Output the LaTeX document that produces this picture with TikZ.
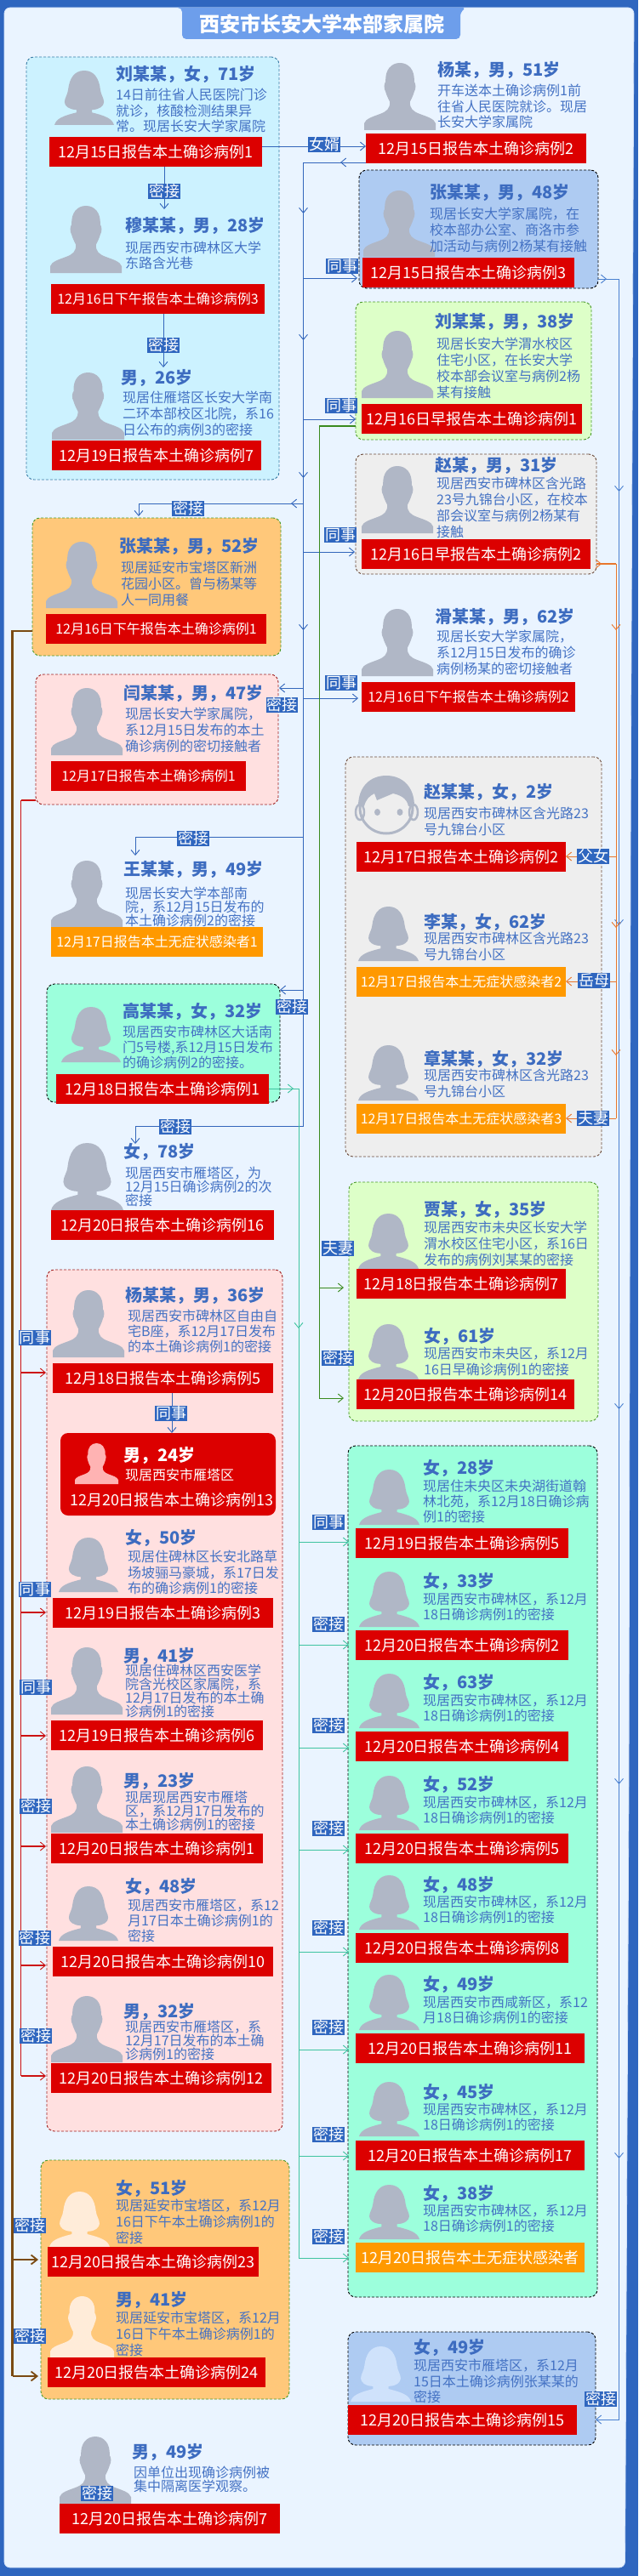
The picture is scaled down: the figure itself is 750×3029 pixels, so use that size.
\documentclass[tikz,border=0pt]{standalone}
\usepackage{fontspec}
\setmainfont{Noto Sans CJK SC}
\usetikzlibrary{arrows.meta}
\definecolor{pagebg}{HTML}{2F66BF}
\definecolor{panel}{HTML}{EAF4FF}
\definecolor{titlebar}{HTML}{6D9EEB}
\definecolor{tagblue}{HTML}{2F66BF}
\definecolor{txtblue}{HTML}{4472C4}
\definecolor{namblue}{HTML}{3D6CC0}
\definecolor{bred}{HTML}{DC0000}
\definecolor{borange}{HTML}{FF9900}
\definecolor{silgray}{HTML}{B0B7C6}
\definecolor{cyanfill}{HTML}{CCF2FF}
\definecolor{bluefill}{HTML}{AECBF2}
\definecolor{greenfill}{HTML}{DDFFC8}
\definecolor{grayfill}{HTML}{EEEEEE}
\definecolor{orangefill}{HTML}{FFC87A}
\definecolor{pinkfill}{HTML}{FFE0E0}
\definecolor{aquafill}{HTML}{9CFFDC}
\definecolor{cyanline}{HTML}{3A7CA5}
\definecolor{greenline}{HTML}{4A9A2A}
\definecolor{brownline}{HTML}{6B4A3A}
\definecolor{redline}{HTML}{A02020}
\definecolor{cblue}{HTML}{3366BB}
\definecolor{clblue}{HTML}{4A80D0}
\definecolor{corange}{HTML}{E8762C}
\definecolor{cgreen}{HTML}{3A8A1E}
\definecolor{caqua}{HTML}{3FC4A0}
\definecolor{cred}{HTML}{CC1111}
\definecolor{cbrown}{HTML}{7A4A12}
\definecolor{lightskin}{HTML}{FFECD9}
\definecolor{lightblue}{HTML}{CFE2FB}
\definecolor{lightpink}{HTML}{FFB3B3}
\tikzset{
  grpbox/.style={rounded corners=9pt,dashed,dash pattern=on 3pt off 2pt,line width=0.9pt,inner sep=0pt,outer sep=0pt},
  bnrbox/.style={inner sep=0pt,outer sep=0pt,text=white},
  reltag/.style={fill=tagblue,text=white,inner sep=0pt,outer sep=0pt,minimum width=37.5pt,minimum height=18pt,font=\fontsize{18}{18}\selectfont},
  nametxt/.style={anchor=west,inner sep=0pt,text=namblue,font=\fontsize{20}{20}\selectfont\bfseries},
  bodytxt/.style={anchor=north west,inner sep=0pt,text=txtblue,align=left},
  barb/.style={-{Straight Barb[length=6pt,width=10pt,line width=0.9pt]}},
  lnblue/.style={draw=cblue,line width=0.9pt},
  lnlight/.style={draw=clblue,line width=0.9pt},
  lnorange/.style={draw=corange,line width=1pt},
  lngreen/.style={draw=cgreen,line width=1pt},
  lnaqua/.style={draw=caqua,line width=1pt},
  lnred/.style={draw=cred,line width=1.2pt},
  lnbrown/.style={draw=cbrown,line width=2.6pt},
}
\def\manpath{(0,1) -- (0,.9) .. controls (.02,.83) and (.12,.8) .. (.22,.76) .. controls (.32,.72) and (.36,.68) .. (.36,.58) .. controls (.33,.52) and (.31,.47) .. (.3,.43) .. controls (.27,.38) and (.28,.3) .. (.3,.28) .. controls (.29,.1) and (.38,0) .. (.5,0) .. controls (.62,0) and (.71,.1) .. (.7,.28) .. controls (.72,.3) and (.73,.38) .. (.7,.43) .. controls (.69,.47) and (.67,.52) .. (.64,.58) .. controls (.64,.68) and (.68,.72) .. (.78,.76) .. controls (.88,.8) and (.98,.83) .. (1,.9) -- (1,1) -- cycle}
\def\womanpath{(0,1) .. controls (.03,.88) and (.15,.83) .. (.37,.77) -- (.37,.72) .. controls (.25,.72) and (.17,.65) .. (.17,.58) .. controls (.17,.5) and (.22,.45) .. (.23,.35) .. controls (.25,.15) and (.33,0) .. (.5,0) .. controls (.67,0) and (.75,.15) .. (.77,.35) .. controls (.78,.45) and (.83,.5) .. (.83,.58) .. controls (.83,.65) and (.75,.72) .. (.63,.72) -- (.63,.77) .. controls (.85,.83) and (.97,.88) .. (1,1) -- cycle}
% silhouettes: x0 y0 x1 y1 colour
\newcommand\mansil[5]{\pgfmathsetmacro\sw{#3-#1}\pgfmathsetmacro\sh{#4-#2}%
  \begin{scope}[shift={(#1,#2)},x=\sw pt,y=-\sh pt]\fill[#5] \manpath;\end{scope}}
\newcommand\womansil[5]{\pgfmathsetmacro\sw{#3-#1}\pgfmathsetmacro\sh{#4-#2}%
  \begin{scope}[shift={(#1,#2)},x=\sw pt,y=-\sh pt]\fill[#5] \womanpath;\end{scope}}
% group: name x0 y0 x1 y1 fill border
\newcommand\grpbox[7]{\node[grpbox,fill=#6,draw=#7,minimum width={(#4-#2)*1pt},minimum height={(#5-#3)*1pt}] (#1) at ({(#2+#4)/2},{(#3+#5)/2}) {};}
% banner: name x0 y0 x1 y1 fill size text
\newcommand\bnr[8]{\node[bnrbox,fill=#6,minimum width={(#4-#2)*1pt},minimum height={(#5-#3)*1pt},font=\fontsize{#7}{#7}\selectfont] (#1) at ({(#2+#4)/2},{(#3+#5)/2}) {#8};}
% text: id x yname xbody ybodycentre lead name body
\newcommand\ptxt[8]{\node[nametxt] (n#1) at (#2,#3) {#7};
  \node[bodytxt,font=\fontsize{16}{#6}\selectfont] (d#1) at (#4,{#5-8}) {#8};}
\newcommand\rel[4]{\node[reltag] (#1) at (#2,#3) {#4};}
\newcommand\hbr[5]{\coordinate (#3) at (#4,#5); \draw[#1,barb] (#2 |- #3) -- (#3);}
\newcommand\midtip[5]{\draw[#1,barb] ({#2-5*#4},{#3-5*#5}) -- (#2,#3);}
\begin{document}
\begin{tikzpicture}[x=1pt,y=-1pt]
\useasboundingbox (0,0) rectangle (750,3029);
\fill[pagebg] (0,0) rectangle (750,3029);
\path[fill=panel,draw=white!70!titlebar,line width=0.8pt,rounded corners=7pt] (5,9) -- (745,9) -- (741,1000) -- (739,2100) -- (734.5,3019) -- (5,3019) -- cycle;
% title
\path[fill=titlebar,rounded corners=5pt] (214,46) -- (214,9) -- (208,9) -- (548,9) -- (541,14) -- (541,46) -- cycle;
\node[inner sep=0pt,text=white,font=\fontsize{24}{24}\selectfont\bfseries] (title) at (378,28) {西安市长安大学本部家属院};
% groups
\grpbox{G1}{31}{67}{328}{564}{cyanfill}{cyanline}
\grpbox{G2}{422}{200}{703}{339}{bluefill}{black}
\grpbox{G3}{418}{355}{695}{517}{greenfill}{greenline}
\grpbox{G4}{418}{534}{701}{675}{grayfill}{brownline}
\grpbox{G5}{38}{609}{330}{771}{orangefill}{greenline}
\grpbox{G6}{42}{793}{327}{946}{pinkfill}{redline}
\grpbox{G7}{406}{890}{707}{1360}{grayfill}{brownline}
\grpbox{G8}{55}{1157}{329}{1296}{aquafill}{black}
\grpbox{G9}{410}{1390}{703}{1671}{greenfill}{greenline}
\grpbox{G10}{55}{1493}{332}{2506}{pinkfill}{redline}
\grpbox{G11}{409}{1700}{702}{2701}{aquafill}{black}
\grpbox{G12}{48}{2540}{340}{2821}{orangefill}{greenline}
\grpbox{G13}{409}{2742}{700}{2875}{bluefill}{black}
\node[fill=bred,rounded corners=9pt,inner sep=0pt,outer sep=0pt,minimum width=253pt,minimum height=97pt] (R13) at (197.5,1733.5) {};
% silhouettes
\womansil{64}{83}{134}{147}{silgray}
\mansil{428}{74}{512}{153}{silgray}
\mansil{59}{242}{143}{321}{silgray}
\mansil{61}{438}{146}{517}{silgray}
\mansil{427}{224}{511}{302}{silgray}
\mansil{425}{389}{509}{468}{silgray}
\mansil{425}{548}{509}{627}{silgray}
\mansil{54}{637}{138}{715}{silgray}
\mansil{425}{716}{509}{795}{silgray}
\mansil{60}{809}{144}{888}{silgray}
% child
\draw[silgray,line width=3pt] (454,950) ellipse [x radius=31pt,y radius=30pt];
\fill[silgray] (421,948) .. controls (421,925) and (435,912) .. (454,912) .. controls (473,912) and (487,925) .. (487,948) -- (480,948) .. controls (478,938) and (470,935) .. (462,933) -- (443,941) -- (440,933) .. controls (434,936) and (430,940) .. (428,948) -- cycle;
\draw[silgray,line width=2.5pt] (423,955) ellipse [x radius=5pt,y radius=9pt];
\draw[silgray,line width=2.5pt] (486,955) ellipse [x radius=5pt,y radius=9pt];
\fill[silgray] (443.5,955) ellipse [x radius=3.5pt,y radius=4pt];
\fill[silgray] (470,955) ellipse [x radius=3.5pt,y radius=4pt];
\mansil{60}{1012}{144}{1090}{silgray}
\womansil{421}{1066}{492}{1130}{silgray}
\womansil{72}{1184}{142}{1249}{silgray}
\womansil{421}{1229}{492}{1294}{silgray}
\womansil{60}{1344}{145}{1423}{silgray}
\womansil{421}{1427}{492}{1492}{silgray}
\mansil{62}{1517}{146}{1596}{silgray}
\womansil{421}{1557}{492}{1622}{silgray}
\mansil{88}{1697}{139}{1745}{lightpink}
\womansil{422}{1728}{493}{1793}{silgray}
\womansil{69}{1808}{139}{1872}{silgray}
\womansil{422}{1848}{493}{1913}{silgray}
\mansil{60}{1937}{144}{2016}{silgray}
\womansil{422}{1968}{493}{2032}{silgray}
\mansil{60}{2077}{144}{2155}{silgray}
\womansil{422}{2088}{493}{2152}{silgray}
\womansil{69}{2218}{139}{2282}{silgray}
\womansil{422}{2205}{493}{2269}{silgray}
\womansil{422}{2322}{493}{2387}{silgray}
\mansil{60}{2347}{144}{2425}{silgray}
\womansil{422}{2448}{493}{2512}{silgray}
\womansil{422}{2569}{493}{2633}{silgray}
\womansil{58}{2577}{129}{2642}{lightskin}
\mansil{59}{2700}{134}{2772}{lightskin}
\womansil{412}{2759}{483}{2824}{lightblue}
\mansil{70}{2865}{154}{2944}{silgray}
% banners
\bnr{B1}{58}{161}{308}{196}{bred}{18}{12月15日报告本土确诊病例1}
\bnr{B2}{430}{157}{689}{192}{bred}{18}{12月15日报告本土确诊病例2}
\bnr{B3}{426}{303}{675}{338}{bred}{18}{12月15日报告本土确诊病例3}
\bnr{B4}{60}{334}{311}{369}{bred}{16}{12月16日下午报告本土确诊病例3}
\bnr{B5}{61}{518}{307}{553}{bred}{18}{12月19日报告本土确诊病例7}
\bnr{B6}{425}{475}{684}{510}{bred}{18}{12月16日早报告本土确诊病例1}
\bnr{B7}{425}{634}{694}{669}{bred}{18}{12月16日早报告本土确诊病例2}
\bnr{B8}{54}{722}{313}{757}{bred}{16}{12月16日下午报告本土确诊病例1}
\bnr{B9}{425}{802}{676}{837}{bred}{16}{12月16日下午报告本土确诊病例2}
\bnr{B10}{60}{895}{289}{930}{bred}{16}{12月17日报告本土确诊病例1}
\bnr{B11}{419}{990}{665}{1025}{bred}{18}{12月17日报告本土确诊病例2}
\bnr{B12}{60}{1090}{309}{1125}{borange}{16}{12月17日报告本土无症状感染者1\hspace{4pt}}
\bnr{B13}{419}{1137}{665}{1172}{borange}{16}{12月17日报告本土无症状感染者2}
\bnr{B14}{66}{1263}{316}{1298}{bred}{18}{12月18日报告本土确诊病例1}
\bnr{B15}{419}{1298}{665}{1333}{borange}{16}{12月17日报告本土无症状感染者3}
\bnr{B16}{60}{1423}{322}{1458}{bred}{18}{12月20日报告本土确诊病例16}
\bnr{B17}{419}{1492}{665}{1527}{bred}{18}{12月18日报告本土确诊病例7}
\bnr{B18}{419}{1622}{675}{1657}{bred}{18}{12月20日报告本土确诊病例14}
\bnr{B19}{62}{1603}{321}{1638}{bred}{18}{12月18日报告本土确诊病例5}
\bnr{B20}{418}{1797}{668}{1832}{bred}{18}{12月19日报告本土确诊病例5}
\bnr{B21}{62}{1879}{321}{1914}{bred}{18}{12月19日报告本土确诊病例3}
\bnr{B22}{418}{1917}{668}{1952}{bred}{18}{12月20日报告本土确诊病例2}
\bnr{B23}{60}{2023}{309}{2058}{bred}{18}{12月19日报告本土确诊病例6}
\bnr{B24}{418}{2036}{668}{2071}{bred}{18}{12月20日报告本土确诊病例4}
\bnr{B25}{60}{2156}{309}{2191}{bred}{18}{12月20日报告本土确诊病例1}
\bnr{B26}{418}{2156}{668}{2191}{bred}{18}{12月20日报告本土确诊病例5}
\bnr{B27}{62}{2289}{321}{2324}{bred}{18}{12月20日报告本土确诊病例10}
\bnr{B28}{418}{2273}{668}{2308}{bred}{18}{12月20日报告本土确诊病例8}
\bnr{B29}{60}{2426}{319}{2461}{bred}{18}{12月20日报告本土确诊病例12}
\bnr{B30}{418}{2391}{687}{2426}{bred}{18}{12月20日报告本土确诊病例11\hspace{19pt}}
\bnr{B31}{418}{2517}{687}{2552}{bred}{18}{12月20日报告本土确诊病例17\hspace{19pt}}
\bnr{B32}{418}{2637}{687}{2672}{borange}{18}{12月20日报告本土无症状感染者\hspace{8pt}}
\bnr{B33}{56}{2642}{304}{2677}{bred}{18}{12月20日报告本土确诊病例23}
\bnr{B34}{56}{2772}{312}{2807}{bred}{18}{12月20日报告本土确诊病例24}
\bnr{B35}{409}{2828}{678}{2863}{bred}{18}{12月20日报告本土确诊病例15}
\bnr{B36}{70}{2944}{329}{2979}{bred}{18}{12月20日报告本土确诊病例7}
\node[inner sep=0pt,text=white,font=\fontsize{18}{18}\selectfont] (B37) at (202,1764) {12月20日报告本土确诊病例13};
% texts
\ptxt{1}{136}{87}{136}{112}{18.3pt}{刘某某，女，71岁}{14日前往省人民医院门诊\\就诊，核酸检测结果异\\常。现居长安大学家属院}
\ptxt{2}{514}{83}{514}{107}{18.3pt}{杨某，男，51岁}{开车送本土确诊病例1前\\往省人民医院就诊。现居\\长安大学家属院}
\ptxt{3}{147}{265}{147}{292}{18pt}{穆某某，男，28岁}{现居西安市碑林区大学\\东路含光巷}
\ptxt{4}{142}{444}{144}{468}{18.7pt}{男，26岁}{现居住雁塔区长安大学南\\二环本部校区北院，系16\\日公布的病例3的密接}
\ptxt{5}{505}{227}{505}{252}{19pt}{张某某，男，48岁}{现居长安大学家属院，在\\校本部办公室、商洛市参\\加活动与病例2杨某有接触}
\ptxt{6}{511}{378}{513}{405}{18.8pt}{刘某某，男，38岁}{现居长安大学渭水校区\\住宅小区，在长安大学\\校本部会议室与病例2杨\\某有接触}
\ptxt{7}{511}{547}{513}{569}{19pt}{赵某，男，31岁}{现居西安市碑林区含光路\\23号九锦台小区，在校本\\部会议室与病例2杨某有\\接触}
\ptxt{8}{140}{642}{142}{668}{18.7pt}{张某某，男，52岁}{现居延安市宝塔区新洲\\花园小区。曾与杨某等\\人一同用餐}
\ptxt{9}{511}{725}{513}{749}{19pt}{滑某某，男，62岁}{现居长安大学家属院，\\系12月15日发布的确诊\\病例杨某的密切接触者}
\ptxt{10}{145}{815}{147}{840}{19pt}{闫某某，男，47岁}{现居长安大学家属院，\\系12月15日发布的本土\\确诊病例的密切接触者}
\ptxt{11}{498}{931}{498}{957}{19pt}{赵某某，女，2岁}{现居西安市碑林区含光路23\\号九锦台小区}
\ptxt{12}{145}{1022}{147}{1051}{15.7pt}{王某某，男，49岁}{现居长安大学本部南\\院，系12月15日发布的\\本土确诊病例2的密接}
\ptxt{13}{498}{1084}{498}{1104}{19pt}{李某，女，62岁}{现居西安市碑林区含光路23\\号九锦台小区}
\ptxt{14}{144}{1189}{144}{1214}{18pt}{高某某，女，32岁}{现居西安市碑林区大话南\\门5号楼,系12月15日发布\\的确诊病例2的密接。}
\ptxt{15}{498}{1245}{498}{1265}{19pt}{章某某，女，32岁}{现居西安市碑林区含光路23\\号九锦台小区}
\ptxt{16}{145}{1354}{147}{1380}{16pt}{女，78岁}{现居西安市雁塔区，为\\12月15日确诊病例2的次\\密接}
\ptxt{17}{498}{1422}{498}{1444}{19pt}{贾某，女，35岁}{现居西安市未央区长安大学\\渭水校区住宅小区，系16日\\发布的病例刘某某的密接}
\ptxt{18}{147}{1523}{150}{1548}{17.7pt}{杨某某，男，36岁}{现居西安市碑林区自由自\\宅B座，系12月17日发布\\的本土确诊病例1的密接}
\ptxt{19}{498}{1571}{498}{1592}{18.7pt}{女，61岁}{现居西安市未央区，系12月\\16日早确诊病例1的密接}
\node[nametxt,text=white] (n20) at (145,1711) {男，24岁};
\node[bodytxt,text=white,font=\fontsize{16}{18}\selectfont] (d20) at (147,1727) {现居西安市雁塔区};
\ptxt{21}{497}{1726}{497}{1748}{18pt}{女，28岁}{现居住未央区未央湖街道翰\\林北苑，系12月18日确诊病\\例1的密接}
\ptxt{22}{147}{1808}{150}{1831}{18.3pt}{女，50岁}{现居住碑林区长安北路草\\场坡骊马豪城，系17日发\\布的确诊病例1的密接}
\ptxt{23}{497}{1859}{497}{1881}{17.6pt}{女，33岁}{现居西安市碑林区，系12月\\18日确诊病例1的密接}
\ptxt{24}{145}{1947}{147}{1965}{16pt}{男，41岁}{现居住碑林区西安医学\\院含光校区家属院，系\\12月17日发布的本土确\\诊病例1的密接}
\ptxt{25}{497}{1978}{497}{2000}{17.6pt}{女，63岁}{现居西安市碑林区，系12月\\18日确诊病例1的密接}
\ptxt{26}{145}{2094}{147}{2114}{16pt}{男，23岁}{现居现居西安市雁塔\\区，系12月17日发布的\\本土确诊病例1的密接}
\ptxt{27}{497}{2098}{497}{2120}{17.6pt}{女，52岁}{现居西安市碑林区，系12月\\18日确诊病例1的密接}
\ptxt{28}{147}{2218}{150}{2241}{18pt}{女，48岁}{现居西安市雁塔区，系12\\月17日本土确诊病例1的\\密接}
\ptxt{29}{497}{2216}{497}{2237}{17.6pt}{女，48岁}{现居西安市碑林区，系12月\\18日确诊病例1的密接}
\ptxt{30}{497}{2333}{497}{2355}{17.6pt}{女，49岁}{现居西安市西咸新区，系12\\月18日确诊病例1的密接}
\ptxt{31}{145}{2365}{147}{2384}{16pt}{男，32岁}{现居西安市雁塔区，系\\12月17日发布的本土确\\诊病例1的密接}
\ptxt{32}{497}{2460}{497}{2481}{17.6pt}{女，45岁}{现居西安市碑林区，系12月\\18日确诊病例1的密接}
\ptxt{33}{497}{2579}{497}{2600}{18pt}{女，38岁}{现居西安市碑林区，系12月\\18日确诊病例1的密接}
\ptxt{34}{136}{2573}{136}{2594}{19pt}{女，51岁}{现居延安市宝塔区，系12月\\16日下午本土确诊病例1的\\密接}
\ptxt{35}{136}{2704}{136}{2726}{19pt}{男，41岁}{现居延安市宝塔区，系12月\\16日下午本土确诊病例1的\\密接}
\ptxt{36}{486}{2760}{486}{2782}{18.5pt}{女，49岁}{现居西安市雁塔区，系12月\\15日本土确诊病例张某某的\\密接}
\ptxt{37}{155}{2883}{157}{2908}{16pt}{男，49岁}{因单位出现确诊病例被\\集中隔离医学观察。}
% connectors: top left
\draw[lnblue,barb] (B1.east |- 0,172) -- (B2.west |- 0,172);
\coordinate (c1) at (193,246);
\draw[lnblue,barb] (B1.south -| c1) -- (c1);
\coordinate (c2) at (192,432);
\draw[lnblue,barb] (B4.south -| c2) -- (c2);
\coordinate (c3) at (202,1685);
\draw[lnblue,draw=cblue,barb] (B19.south -| c3) -- (R13.north -| c3);
% blue main bus
\coordinate (busA) at (356.5,191);
\coordinate (busAend) at (356.5,1324);
\draw[lnblue] (B2.west |- busA) -- (busA) -- (busAend);
\midtip{lnblue}{400}{191}{-1}{0}
\midtip{lnblue}{356.5}{251}{0}{1}
\midtip{lnblue}{356.5}{400}{0}{1}
\midtip{lnblue}{356.5}{562}{0}{1}
\midtip{lnblue}{356.5}{741}{0}{1}
\hbr{lnblue}{busA}{a1}{420}{327}
\hbr{lnblue}{busA}{a2}{418}{493}
\hbr{lnblue}{busA}{a3}{417}{649}
\hbr{lnblue}{busA}{a4}{328}{809}
\hbr{lnblue}{busA}{a5}{421}{821}
\hbr{lnblue}{busA}{a6}{329}{1164}
\coordinate (z52) at (163,607);
\draw[lnblue,barb] (busA |- 0,592) -- (z52 |- 0,592) -- (z52);
\midtip{lnblue}{342}{592}{-1}{0}
\coordinate (zw) at (159,1006);
\draw[lnblue,barb] (busA |- 0,984) -- (zw |- 0,984) -- (zw);
\coordinate (z78) at (159,1345);
\draw[lnblue,barb] (busAend) -- (z78 |- busAend) -- (z78);
% right light-blue bus
\coordinate (busB) at (727.5,328);
\coordinate (busBend) at (727.5,2845);
\draw[lnlight,barb] (G2.east |- busB) -- (busB) -- (busBend) -- (G13.east |- busBend);
\midtip{lnlight}{713}{328}{1}{0}
\midtip{lnlight}{727.5}{578}{0}{1}
\midtip{lnlight}{727.5}{1088}{0}{1}
\midtip{lnlight}{727.5}{1657}{0}{1}
\midtip{lnlight}{727.5}{2098}{0}{1}
\midtip{lnlight}{727.5}{2538}{0}{1}
% orange bus
\coordinate (busC) at (724,663);
\coordinate (busCend) at (724,1315);
\draw[corange,line width=2.2pt] (G4.east |- busC) -- (busC);
\draw[lnorange] (busC) -- (busCend);
\midtip{lnorange}{724}{741}{0}{1}
\midtip{lnorange}{724}{1091}{0}{1}
\midtip{lnorange}{724}{1241}{0}{1}
\midtip{lnorange}{707}{663}{1}{0}
\draw[lnorange,barb] (busC |- 0,1007) -- (B11.east |- 0,1007);
\draw[lnorange,barb] (busC |- 0,1154) -- (B13.east |- 0,1154);
\draw[lnorange,barb] (busCend) -- (B15.east |- busCend);
% green bus
\coordinate (busD) at (375,501);
\draw[cgreen,line width=2.4pt] (G3.west |- busD) -- (busD);
\draw[lngreen] (busD) -- (375,1644);
\coordinate (d1) at (404,1514);
\coordinate (d2) at (404,1644);
\draw[lngreen,barb] (busD |- d1) -- (d1);
\draw[lngreen,barb] (busD |- d2) -- (d2);
% aqua bus
\coordinate (busE) at (351,1280);
\coordinate (busEend) at (351,2655);
\draw[lnaqua] (B14.east |- busE) -- (busE) -- (busEend);
\midtip{lnaqua}{345}{1280}{1}{0}
\midtip{lnaqua}{351}{1562}{0}{1}
\hbr{lnaqua}{busE}{e1}{410}{1813}
\hbr{lnaqua}{busE}{e2}{410}{1934}
\hbr{lnaqua}{busE}{e3}{410}{2055}
\hbr{lnaqua}{busE}{e4}{410}{2175}
\hbr{lnaqua}{busE}{e5}{410}{2295}
\hbr{lnaqua}{busE}{e6}{410}{2410}
\hbr{lnaqua}{busE}{e7}{410}{2535}
\hbr{lnaqua}{busE}{e8}{410}{2655}
% brown bus
\coordinate (busG) at (14.5,742);
\coordinate (busGend) at (14.5,2794);
\draw[lnbrown] (G5.west |- busG) -- (busG) -- (busGend);
\coordinate (g1) at (45,2657);
\coordinate (g2) at (45,2794);
\draw[cbrown,line width=2.2pt,-{Straight Barb[length=7pt,width=11pt,line width=1.8pt]}] (busG |- g1) -- (g1);
\draw[cbrown,line width=2.2pt,-{Straight Barb[length=7pt,width=11pt,line width=1.8pt]}] (busG |- g2) -- (g2);
% red bus
\coordinate (busF) at (24.5,941);
\coordinate (busFend) at (24.5,2441);
\draw[cred,line width=2.2pt] (G6.west |- busF) -- (busF);
\draw[lnred] (busF) -- (busFend);
\hbr{lnred}{busF}{f1}{54}{1614}
\hbr{lnred}{busF}{f2}{54}{1896}
\hbr{lnred}{busF}{f3}{54}{2041}
\hbr{lnred}{busF}{f4}{54}{2171}
\hbr{lnred}{busF}{f5}{54}{2311}
\hbr{lnred}{busF}{f6}{54}{2441}
% relation tags
\rel{t1}{381}{170}{女婿}
\rel{t2}{193}{225}{密接}
\rel{t3}{192}{406}{密接}
\rel{t4}{402}{313}{同事}
\rel{t5}{401}{477}{同事}
\rel{t6}{400}{629}{同事}
\rel{t7}{401}{803}{同事}
\rel{t8}{221}{598}{密接}
\rel{t9}{331.5}{829}{密接}
\rel{t10}{227}{986}{密接}
\rel{t11}{697}{1007}{父女}
\rel{t12}{698}{1153}{岳母}
\rel{t13}{343}{1184}{密接}
\rel{t14}{697}{1315}{夫妻}
\rel{t15}{206}{1325}{密接}
\rel{t16}{397}{1468}{夫妻}
\rel{t17}{41}{1573}{同事}
\rel{t18}{397}{1597}{密接}
\rel{t19}{201}{1662}{同事}
\rel{t20}{386}{1790}{同事}
\rel{t21}{41}{1869}{同事}
\rel{t22}{386}{1910}{密接}
\rel{t23}{42}{1984}{同事}
\rel{t24}{386}{2029}{密接}
\rel{t25}{42}{2124}{密接}
\rel{t26}{386}{2150}{密接}
\rel{t27}{386}{2267}{密接}
\rel{t28}{41}{2279}{密接}
\rel{t29}{386}{2384}{密接}
\rel{t30}{42}{2394}{密接}
\rel{t31}{386}{2510}{密接}
\rel{t32}{386}{2630}{密接}
\rel{t33}{35}{2617}{密接}
\rel{t34}{35}{2747}{密接}
\rel{t35}{706}{2821}{密接}
\rel{t36}{114}{2932}{密接}
\end{tikzpicture}
\end{document}
